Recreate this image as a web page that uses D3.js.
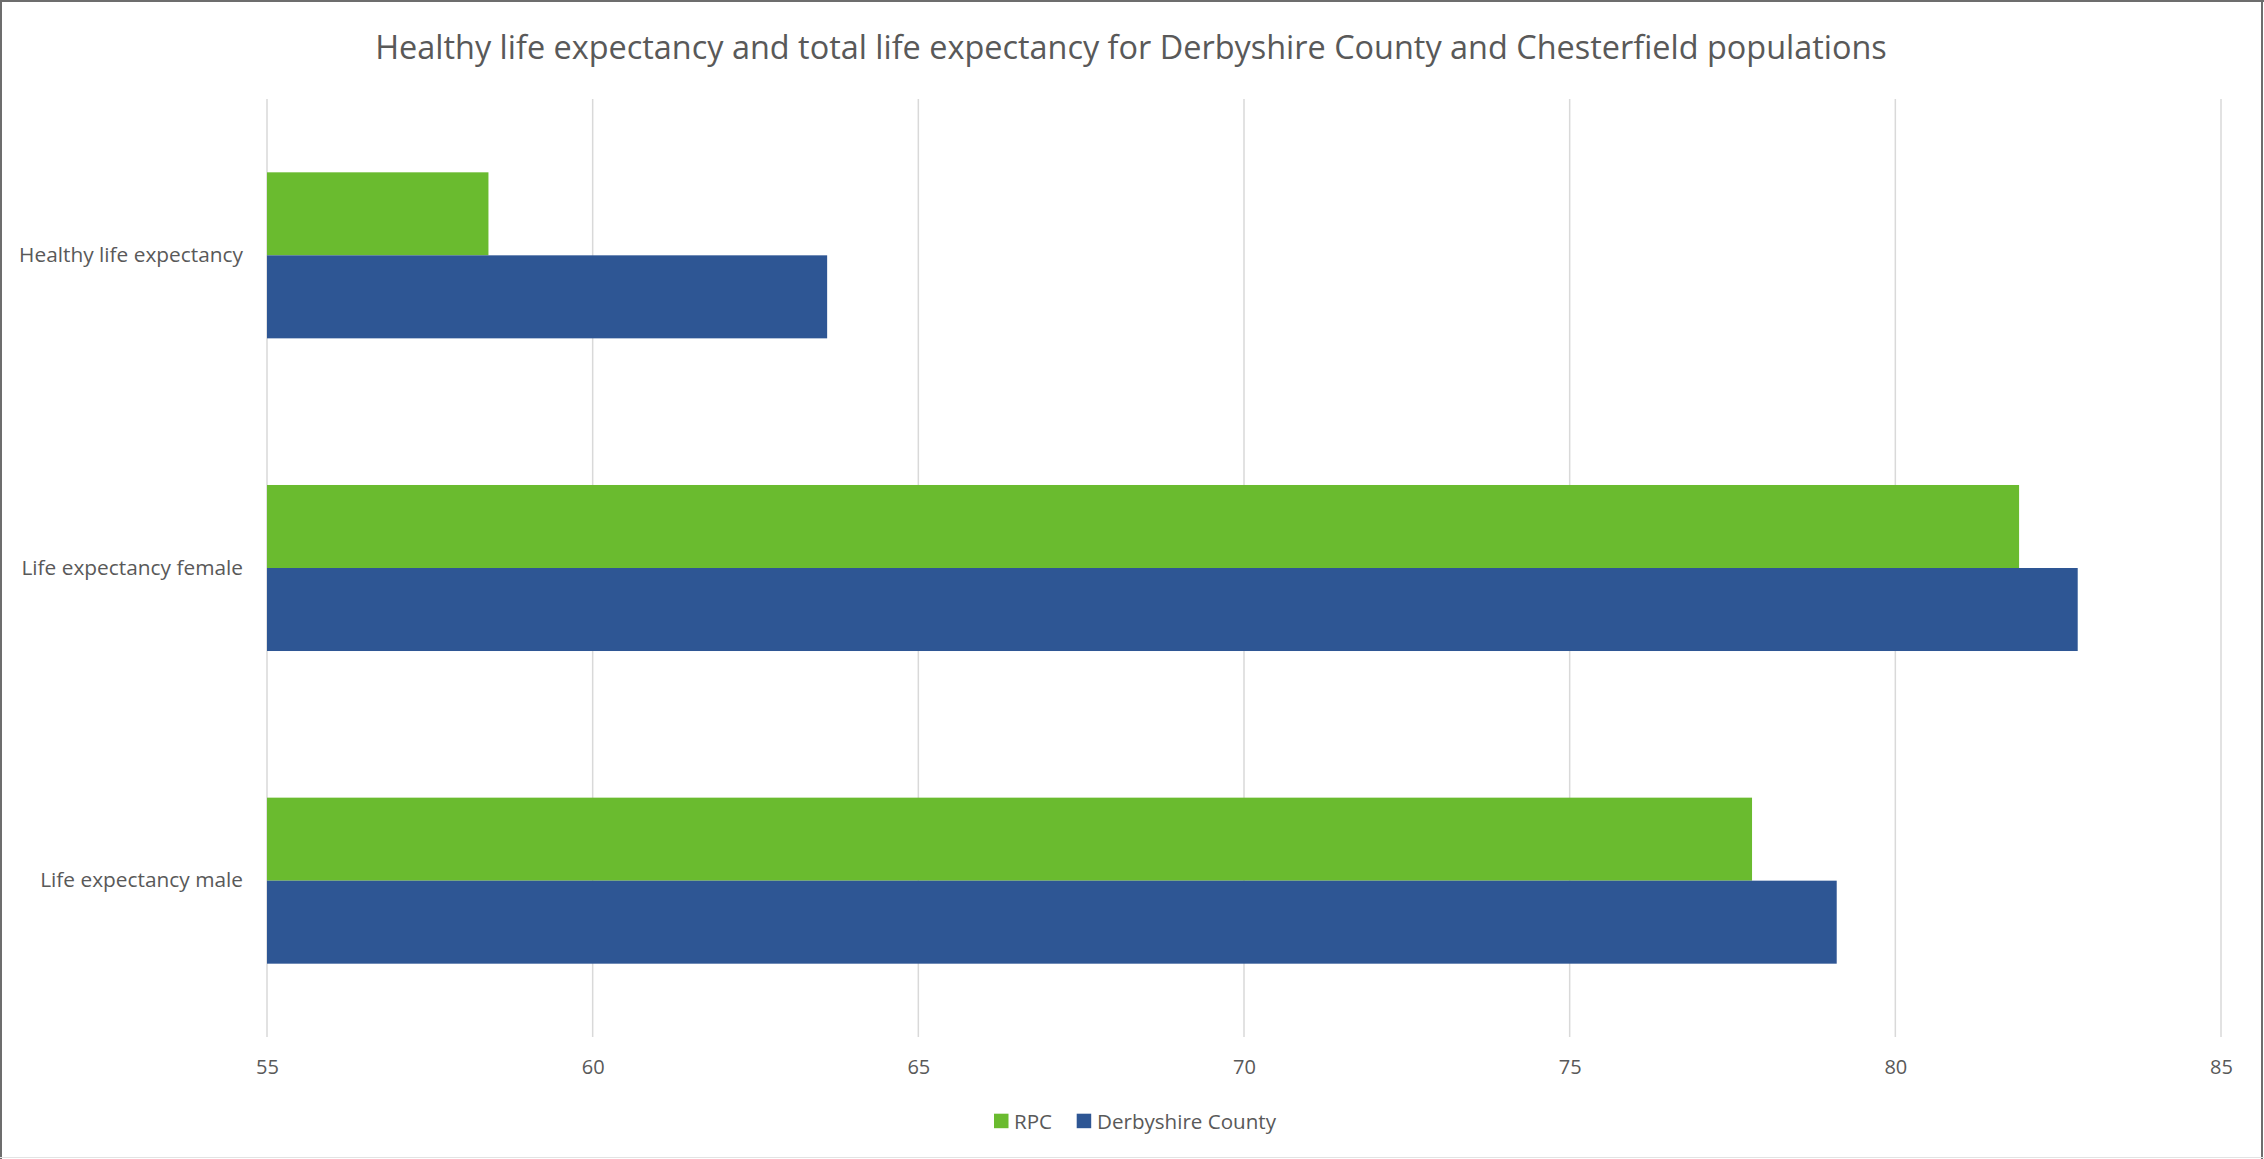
<!DOCTYPE html>
<html><head><meta charset="utf-8">
<script src="https://cdn.jsdelivr.net/npm/d3@7"></script>
<style>body{margin:0;background:#fff;} text{font-family:"Open Sans",sans-serif;fill:#595959;}</style>
</head><body>
<svg id="c" width="2264" height="1159"></svg>
<script>
const categories = ["Healthy life expectancy", "Life expectancy female", "Life expectancy male"];
const seriesNames = ["RPC", "Derbyshire County"];
const rpcValues = [58.4, 81.9, 77.8];
const derbyshireValues = [63.6, 82.8, 79.1];
const xTicks = [55, 60, 65, 70, 75, 80, 85];
const colors = ["#6abb2f", "#2e5694"];
const title = "Healthy life expectancy and total life expectancy for Derbyshire County and Chesterfield populations";

const W = 2264, H = 1159;
const svg = d3.select("#c");
const m = {left: 267, right: 2221, top: 99, bottom: 1037};

function fit(sel, target) {
  const len = sel.node().getComputedTextLength();
  const fs = parseFloat(sel.attr("font-size"));
  sel.attr("font-size", fs * target / len);
}

// border
svg.append("rect").attr("x", 0).attr("y", 0).attr("width", W).attr("height", H).attr("fill", "#fff");
svg.append("line").attr("x1",1).attr("x2",1).attr("y1",0).attr("y2",H).attr("stroke","#6d6d6d").attr("stroke-width",2);
svg.append("line").attr("x1",0).attr("x2",W).attr("y1",1).attr("y2",1).attr("stroke","#6d6d6d").attr("stroke-width",2);
svg.append("line").attr("x1",2262).attr("x2",2262).attr("y1",0).attr("y2",H).attr("stroke","#6d6d6d").attr("stroke-width",2);
svg.append("line").attr("x1",0).attr("x2",W).attr("y1",1157.5).attr("y2",1157.5).attr("stroke","#e3e3e3").attr("stroke-width",1);

const x = d3.scaleLinear().domain([55, 85]).range([m.left, m.right]);
const y = d3.scaleBand().domain(categories).range([m.top, m.bottom]).paddingInner(0.469).paddingOuter(0.2345);
const ys = d3.scaleBand().domain(seriesNames).range([0, y.bandwidth()]);

// gridlines
svg.append("g").selectAll("line").data(xTicks).join("line")
  .attr("x1", d => x(d)).attr("x2", d => x(d))
  .attr("y1", m.top).attr("y2", m.bottom)
  .attr("stroke", "#d9d9d9").attr("stroke-width", 1.5);

// bars
const data = categories.map((c, i) => ({c, vals: [rpcValues[i], derbyshireValues[i]]}));
const g = svg.append("g").selectAll("g").data(data).join("g")
  .attr("transform", d => `translate(0,${y(d.c)})`);
g.selectAll("rect").data(d => d.vals.map((v, j) => ({v, s: seriesNames[j], j}))).join("rect")
  .attr("x", x(55)).attr("y", d => ys(d.s))
  .attr("width", d => x(d.v) - x(55)).attr("height", ys.bandwidth())
  .attr("fill", d => colors[d.j]);

// x axis labels
const xAxis = d3.axisBottom(x).tickValues(xTicks).tickSize(0).tickPadding(0).tickFormat(d3.format("d"));
const xg = svg.append("g").attr("transform", `translate(0,${m.bottom})`).call(xAxis);
xg.select(".domain").remove();
xg.selectAll("text").attr("font-size", 20).attr("fill", "#595959")
  .attr("font-family", "Open Sans").attr("dy", null).attr("y", 37);

// y axis labels
const yAxis = d3.axisLeft(y).tickSize(0).tickPadding(24);
const yg = svg.append("g").attr("transform", `translate(${m.left},0)`).call(yAxis);
yg.select(".domain").remove();
yg.selectAll("text").attr("font-size", 18).attr("fill", "#595959").attr("font-family", "Open Sans");
const yt0 = yg.select(".tick text");
const baseLen = yt0.node().getComputedTextLength();
const yfs = 18 * 224 / baseLen;
yg.selectAll("text").attr("font-size", yfs);

// title
const t = svg.append("text").attr("x", 1131).attr("y", 46).attr("text-anchor", "middle")
  .attr("dominant-baseline", "central").attr("font-size", 28).text(title);
fit(t, 1512);

// legend
const leg = svg.append("g");
const lx = [994, 1076.7], tx = [1014, 1097];
seriesNames.forEach((s, i) => {
  leg.append("rect").attr("x", lx[i]).attr("y", 1113.7).attr("width", 14.5).attr("height", 14.5).attr("fill", colors[i]);
  leg.append("text").attr("x", tx[i]).attr("y", 1121).attr("dominant-baseline", "central")
    .attr("font-size", 20).text(s);
});
const lt = leg.selectAll("text").filter((d, i) => i === 1);
const llen = lt.node().getComputedTextLength();
leg.selectAll("text").attr("font-size", 20 * 179 / llen);
</script>
</body></html>
